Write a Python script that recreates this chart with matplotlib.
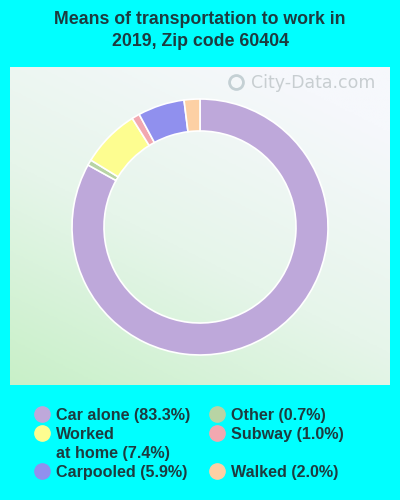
import numpy as np
import matplotlib
matplotlib.use("Agg")
import matplotlib.pyplot as plt
from matplotlib.colors import LinearSegmentedColormap

categories = ["Car alone", "Other", "Worked\nat home", "Subway", "Carpooled", "Walked"]
values = [83.3, 0.7, 7.4, 1.0, 5.9, 2.0]
colors = ["#bea8da", "#b8d4a4", "#fdfd90", "#f2a8b0", "#9090ee", "#fdd0a4"]

legend_order_left = [0, 2, 4]
legend_order_right = [1, 3, 5]

plt.rcParams['font.family'] = ['Liberation Sans', 'DejaVu Sans']
TXT = "#1d3b3f"

fig = plt.figure(figsize=(4, 5), dpi=100)
fig.patch.set_facecolor("#00ffff")

fig.text(0.5, 1 - 18/500, "Means of transportation to work in", ha="center",
         va="center_baseline", fontsize=12.8, fontweight="bold", color=TXT)
fig.text(0.5, 1 - 40/500, "2019, Zip code 60404", ha="center",
         va="center_baseline", fontsize=12.8, fontweight="bold", color=TXT)

# panel with gradient
px0, py0, pw, ph = 10/400, (500-385)/500, 380/400, 318/500
bg = fig.add_axes([px0, py0, pw, ph])
ny, nx = 200, 200
yy, xx = np.mgrid[0:1:ny*1j, 0:1:nx*1j]
t = np.clip((xx*0.6 + yy*1.0) / 1.4, 0, 1)
cmap = LinearSegmentedColormap.from_list("g", ["#c8f0c8", "#e6f5ea", "#f6f8fc"])
bg.imshow(t, origin="lower", cmap=cmap, extent=[0, 1, 0, 1], aspect="auto")
bg.set_xlim(0, 1)
bg.set_ylim(0, 1)
bg.set_axis_off()
bg.text((375-10)/380, (385-83)/318, "City-Data.com", ha="right", va="center", fontsize=12.5,
        family="DejaVu Sans", color="#c8ced1")
bg.plot([(236-10)/380], [(385-82)/318], marker="o", markersize=10, markerfacecolor="none",
        markeredgecolor="#c4d0d4", markeredgewidth=2)

# donut
R = 128
cx, cy = 200, 227
ax = fig.add_axes([(cx-R)/400, (500-cy-R)/500, 2*R/400, 2*R/500])
ax.pie(values, colors=colors, startangle=90, counterclock=False,
       wedgeprops=dict(width=0.25, edgecolor="white", linewidth=1.2))
ax.set_aspect("equal")
ax.set_xlim(-1.0, 1.0)
ax.set_ylim(-1.0, 1.0)

# legend
def lbl(i):
    return f"{categories[i]} ({values[i]:.1f}%)"

lx_m, lx_t = 42/400, 56/400
rx_m, rx_t = 217/400, 231/400
left_y = [414, 433, 471]
right_y = [414, 433, 471]
FS = 11.6
for i, y in zip(legend_order_left, left_y):
    fig.add_artist(plt.Line2D([lx_m], [1 - y/500], marker="o", markersize=11,
                              color=colors[i], linestyle="none", transform=fig.transFigure))
    lines = lbl(i).split("\n")
    for k, line in enumerate(lines):
        fig.text(lx_t, 1 - (y + 19*k)/500, line, ha="left", va="center_baseline",
                 fontsize=FS, fontweight="bold", color=TXT)
for i, y in zip(legend_order_right, right_y):
    fig.add_artist(plt.Line2D([rx_m], [1 - y/500], marker="o", markersize=11,
                              color=colors[i], linestyle="none", transform=fig.transFigure))
    fig.text(rx_t, 1 - y/500, lbl(i), ha="left", va="center_baseline",
             fontsize=FS, fontweight="bold", color=TXT)

fig.savefig("out.png", dpi=100, facecolor=fig.get_facecolor())
